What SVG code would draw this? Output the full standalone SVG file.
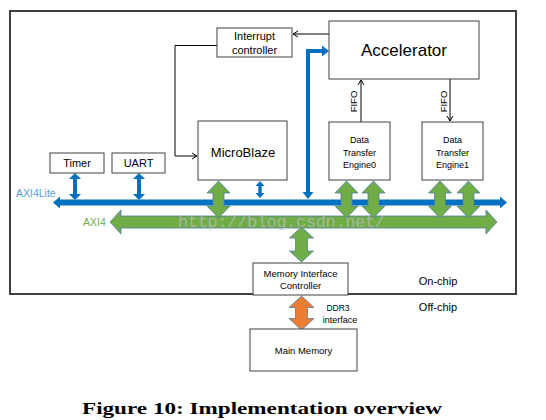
<svg xmlns="http://www.w3.org/2000/svg" width="546" height="420" viewBox="0 0 546 420">
<defs>
<marker id="ah" markerWidth="8" markerHeight="8" refX="6" refY="4" orient="auto" markerUnits="userSpaceOnUse">
<path d="M1,1 L6,4 L1,7" fill="none" stroke="#000" stroke-width="1"/>
</marker>
</defs>
<style>
.box{fill:#fff;stroke:#404040;stroke-width:1}
.t{font-family:"Liberation Sans",Arial,sans-serif;fill:#000;text-anchor:middle}
.thin{fill:none;stroke:#000;stroke-width:1}
.green{fill:#70ad47;stroke:#4f7faa;stroke-width:0.8}
.orange{fill:#ed7d31;stroke:#4f7faa;stroke-width:0.8}
.blue{fill:#0070c0}
</style>
<rect width="546" height="420" fill="#fff"/>
<rect id="frame" x="10" y="11" width="506" height="283" fill="#fff" stroke="#404040" stroke-width="2"/>

<g id="connectors">
<line class="thin" x1="329" y1="34" x2="293" y2="34" marker-end="url(#ah)"/>
<polyline class="thin" points="217,45.5 175,45.5 175,156 197,156" marker-end="url(#ah)"/>
<line class="thin" x1="361" y1="122" x2="361" y2="80" marker-end="url(#ah)"/>
<line class="thin" x1="450" y1="79" x2="450" y2="121" marker-end="url(#ah)"/>
<polygon class="blue" points="53,202.5 60,196.5 60,199.5 500,199.5 500,196.5 507,202.5 500,208.5 500,205.5 60,205.5 60,208.5"/>
<polygon class="green" points="110,222 121,210 121,216 486,216 486,210 497,222 486,234 486,228 121,228 121,234"/>
<polygon class="blue" points="75,173 81,179 77,179 77,194 81,194 75,200 69,194 73,194 73,179 69,179"/>
<polygon class="blue" points="139,173 145,179 141,179 141,194 145,194 139,200 133,194 137,194 137,179 133,179"/>
<polygon class="blue" points="260,181 264.5,186 261.7,186 261.7,193 264.5,193 260,198 255.5,193 258.3,193 258.3,186 255.5,186"/>
<polyline points="308,193 308,51 323,51" fill="none" stroke="#0070c0" stroke-width="4"/>
<polygon class="blue" points="302.5,192 313.5,192 308,199"/>
<polygon class="blue" points="322,45.5 322,56.5 329,51"/>
<polygon class="green" points="218.5,181 230,193 224,193 224,206 230,206 218.5,218 207,206 213,206 213,193 207,193"/>
<polygon class="green" points="346.5,181 358,193 352,193 352,206 358,206 346.5,218 335,206 341,206 341,193 335,193"/>
<polygon class="green" points="373.5,181 385,193 379,193 379,206 385,206 373.5,218 362,206 368,206 368,193 362,193"/>
<polygon class="green" points="440,181 451.5,193 445.5,193 445.5,206 451.5,206 440,218 428.5,206 434.5,206 434.5,193 428.5,193"/>
<polygon class="green" points="468.5,181 480,193 474,193 474,206 480,206 468.5,218 457,206 463,206 463,193 457,193"/>
<polygon class="green" points="301.5,227 313.5,238 307.5,238 307.5,251 313.5,251 301.5,262 289.5,251 295.5,251 295.5,238 289.5,238"/>
<polygon class="orange" points="301.5,296 314,307.5 307.5,307.5 307.5,318.5 314,318.5 301.5,330 289,318.5 295.5,318.5 295.5,307.5 289,307.5"/>
</g>

<text x="178" y="226.5" font-family="'Liberation Mono','Courier New',monospace" font-size="17" fill="#bdbdbd" fill-opacity="0.7" textLength="207">http://blog.csdn.net/</text>

<g id="interrupt">
<rect class="box" x="217" y="28" width="75" height="29"/>
<text class="t" x="254.5" y="40" font-size="11">Interrupt</text>
<text class="t" x="254.5" y="54" font-size="11">controller</text>
</g>
<g id="accelerator">
<rect class="box" x="329" y="21" width="150" height="58"/>
<text class="t" x="404" y="56" font-size="17">Accelerator</text>
</g>
<g id="microblaze">
<rect class="box" x="198" y="121" width="89" height="59"/>
<text class="t" x="243" y="157" font-size="13">MicroBlaze</text>
</g>
<g id="timer">
<rect class="box" x="50" y="153" width="54" height="20"/>
<text class="t" x="77" y="167" font-size="11">Timer</text>
</g>
<g id="uart">
<rect class="box" x="112" y="153" width="53" height="20"/>
<text class="t" x="138.5" y="167" font-size="11">UART</text>
</g>
<g id="dte0">
<rect class="box" x="329" y="122" width="61" height="58"/>
<text class="t" x="359.5" y="143" font-size="9">Data</text>
<text class="t" x="359.5" y="155.5" font-size="9">Transfer</text>
<text class="t" x="359.5" y="168" font-size="9">Engine0</text>
</g>
<g id="dte1">
<rect class="box" x="422" y="122" width="61" height="58"/>
<text class="t" x="452.5" y="143" font-size="9">Data</text>
<text class="t" x="452.5" y="155.5" font-size="9">Transfer</text>
<text class="t" x="452.5" y="168" font-size="9">Engine1</text>
</g>
<g id="mic">
<rect class="box" x="253" y="263" width="95" height="32"/>
<text class="t" x="300.5" y="277" font-size="9.5">Memory Interface</text>
<text class="t" x="300.5" y="289" font-size="9.5">Controller</text>
</g>
<g id="mainmem">
<rect class="box" x="250" y="329" width="107" height="42"/>
<text class="t" x="303.5" y="354" font-size="9.5">Main Memory</text>
</g>

<g id="labels">
<text class="t" x="353" y="101.5" font-size="9.5" transform="rotate(-90 353 101.5)" dy="3.5">FIFO</text>
<text class="t" x="443" y="101.5" font-size="9.5" transform="rotate(-90 443 101.5)" dy="3.5">FIFO</text>
<text x="16" y="197" font-family="'Liberation Sans',Arial,sans-serif" font-size="10.5" fill="#5b9bd5">AXI4Lite</text>
<text x="83" y="226" font-family="'Liberation Sans',Arial,sans-serif" font-size="10.5" fill="#70ad47">AXI4</text>
<text class="t" x="338" y="311" font-size="8.5">DDR3</text>
<text class="t" x="340" y="323" font-size="9">interface</text>
<text class="t" x="438" y="285" font-size="11">On-chip</text>
<text class="t" x="438" y="311" font-size="11">Off-chip</text>
</g>
<text x="82" y="414" font-family="'Liberation Serif','Times New Roman',serif" font-weight="bold" font-size="16.5" fill="#000" textLength="360" lengthAdjust="spacingAndGlyphs">Figure 10: Implementation overview</text>
</svg>
